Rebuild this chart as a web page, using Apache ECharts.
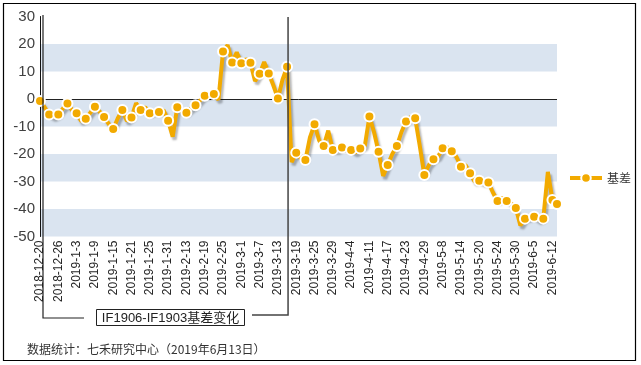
<!DOCTYPE html>
<html>
<head>
<meta charset="utf-8">
<script src="https://cdn.jsdelivr.net/npm/echarts@6/dist/echarts.min.js"></script>
<style>
html,body{margin:0;padding:0;background:#fff;}
#main{width:641px;height:365px;}
</style>
</head>
<body>
<div id="main"></div>
<script>
// Trading dates (categories)
var dates = [
 '2018-12-20','2018-12-21','2018-12-24','2018-12-25','2018-12-26','2018-12-27','2018-12-28','2019-1-2','2019-1-3','2019-1-4',
 '2019-1-7','2019-1-8','2019-1-9','2019-1-10','2019-1-11','2019-1-14','2019-1-15','2019-1-16','2019-1-17','2019-1-18',
 '2019-1-21','2019-1-22','2019-1-23','2019-1-24','2019-1-25','2019-1-28','2019-1-29','2019-1-30','2019-1-31','2019-2-1',
 '2019-2-11','2019-2-12','2019-2-13','2019-2-14','2019-2-15','2019-2-18','2019-2-19','2019-2-20','2019-2-21','2019-2-22',
 '2019-2-25','2019-2-26','2019-2-27','2019-2-28','2019-3-1','2019-3-4','2019-3-5','2019-3-6','2019-3-7','2019-3-8',
 '2019-3-11','2019-3-12','2019-3-13','2019-3-14','2019-3-15','2019-3-18','2019-3-19','2019-3-20','2019-3-21','2019-3-22',
 '2019-3-25','2019-3-26','2019-3-27','2019-3-28','2019-3-29','2019-4-1','2019-4-2','2019-4-3','2019-4-4','2019-4-8',
 '2019-4-9','2019-4-10','2019-4-11','2019-4-12','2019-4-15','2019-4-16','2019-4-17','2019-4-18','2019-4-19','2019-4-22',
 '2019-4-23','2019-4-24','2019-4-25','2019-4-26','2019-4-29','2019-4-30','2019-5-6','2019-5-7','2019-5-8','2019-5-9',
 '2019-5-10','2019-5-13','2019-5-14','2019-5-15','2019-5-16','2019-5-17','2019-5-20','2019-5-21','2019-5-22','2019-5-23',
 '2019-5-24','2019-5-27','2019-5-28','2019-5-29','2019-5-30','2019-5-31','2019-6-3','2019-6-4','2019-6-5','2019-6-6',
 '2019-6-10','2019-6-11','2019-6-12','2019-6-13'
];
// IF1906 - IF1903 basis
var basis = [
 -0.7,-3,-5.6,-6.5,-5.6,-3.5,-1.6,-4,-5.2,-8,
 -7.2,-5,-2.8,-4.5,-6.5,-9,-10.9,-7,-4.0,-8,
 -6.7,-1.5,-4.0,-3,-5.2,-4.5,-4.7,-4,-7.9,-13.7,
 -3.0,-4.5,-5.0,-3.5,-2.3,-0.5,1.2,1.5,1.8,-0.3,
 17.3,19.6,13.3,17,13.0,14.5,13.2,6.5,9.2,13.5,
 9.3,5,0.2,7,11.7,-23,-19.5,-21.5,-22.2,-14,
 -9.2,-15,-17.1,-11.5,-18.5,-18.5,-17.6,-18,-18.5,-19.5,
 -18.0,-17,-6.4,-12,-19.2,-28,-24,-20,-17.1,-12,
 -8.2,-6.5,-7.0,-17,-27.6,-24,-21.9,-21,-17.9,-17.5,
 -19,-21,-24.6,-24,-27.0,-30,-29.7,-30.5,-30.4,-34,
 -37.1,-36,-37.1,-38,-39.6,-46,-43.5,-43,-42.8,-44,
 -43.5,-26.5,-36.7,-38.2
];
var seriesName = '基差';
var boxText = 'IF1906-IF1903基差变化';
var footText = '数据统计：七禾研究中心（2019年6月13日）';
var switchDate = '2019-3-15';
var yMin = -50, yMax = 30, yStep = 10;

var chart = echarts.init(document.getElementById('main'), null, {renderer:'canvas'});
var lastIdx = basis.length - 1;
var option = {
  animation: false,
  backgroundColor: '#fff',
  grid: {left: 40, right: 84, top: 16.5, bottom: 128.5, containLabel: false},
  legend: {
    data: [seriesName], orient: 'vertical', left: 563, top: 167,
    itemWidth: 32, itemHeight: 12, itemGap: 4,
    lineStyle: {width: 4, color: '#F2AA00', shadowBlur: 0, shadowOffsetX: 0, shadowOffsetY: 0},
    textStyle: {fontSize: 12, color: '#333', fontFamily: 'Noto Sans CJK SC'}
  },
  xAxis: {
    type: 'category', data: dates, boundaryGap: false,
    axisLine: {show: false}, axisTick: {show: false},
    axisLabel: {interval: 3, rotate: 90, fontSize: 12, color: '#262626', margin: 4,
      fontFamily: 'Liberation Sans, Arial, sans-serif'},
    splitLine: {show: false}
  },
  yAxis: {
    type: 'value', min: yMin, max: yMax, interval: yStep,
    axisLine: {show: true, lineStyle: {color: '#111', width: 1}},
    axisTick: {show: false},
    axisLabel: {fontSize: 15, color: '#404040', margin: 5, fontFamily: 'Liberation Sans, Arial, sans-serif'},
    splitLine: {show: false},
    splitArea: {show: true, areaStyle: {color: ['#DAE4F0', 'rgba(255,255,255,0)']}}
  },
  series: [{
    name: seriesName, type: 'line', data: basis,
    showAllSymbol: true, symbol: 'circle',
    symbolSize: function (v, p) { return (p.dataIndex % 2 === 0 || p.dataIndex === lastIdx) ? 10 : 0; },
    lineStyle: {color: '#F2AA00', width: 4, shadowColor: 'rgba(0,0,0,0.28)', shadowOffsetX: 2, shadowOffsetY: 3, shadowBlur: 2},
    itemStyle: {color: '#F2AA00', borderColor: '#fff', borderWidth: 2},
    z: 5,
    markLine: {
      silent: true, symbol: 'none', label: {show: false},
      lineStyle: {color: '#222', width: 1, type: 'solid'},
      data: [{yAxis: 0}]
    }
  }]
};
chart.setOption(option);

var vx = chart.convertToPixel({xAxisIndex: 0}, switchDate);
var topY = 17, lineY = 318;
chart.setOption({
  graphic: [
    {type: 'rect', shape: {x: 3.5, y: 3.5, width: 632, height: 357}, style: {fill: 'none', stroke: '#000', lineWidth: 1.2}, z: 0, silent: true},
    {type: 'polyline', shape: {points: [[43, 15], [43, lineY], [84, lineY]]}, style: {fill: 'none', stroke: '#222', lineWidth: 1.2}, z: 10, silent: true},
    {type: 'polyline', shape: {points: [[vx + 1, topY], [vx + 1, lineY - 3], [252, lineY - 3]]}, style: {fill: 'none', stroke: '#444', lineWidth: 1.5}, z: 10, silent: true},
    {type: 'rect', shape: {x: 96.5, y: 309.5, width: 148, height: 16}, style: {fill: '#fff', stroke: '#222', lineWidth: 1}, z: 10, silent: true},
    {type: 'text', x: 170.5, y: 318, style: {text: boxText, fontSize: 13, fill: '#222', align: 'center', verticalAlign: 'middle', fontFamily: 'Liberation Sans, Noto Sans CJK SC'}, z: 11, silent: true},
    {type: 'text', x: 27, y: 349, style: {text: footText, fontSize: 12, fill: '#333', align: 'left', verticalAlign: 'middle', fontFamily: 'Noto Sans CJK SC'}, z: 11, silent: true}
  ]
});
</script>
</body>
</html>
